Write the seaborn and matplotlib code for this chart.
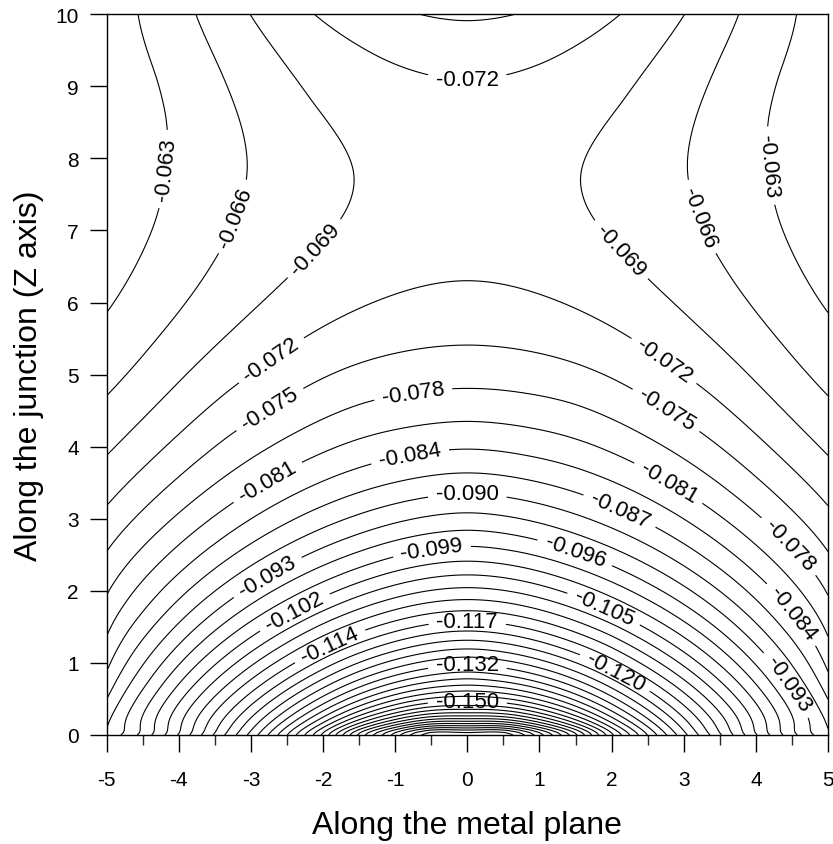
import numpy as np
import seaborn as sns
import matplotlib
matplotlib.use("Agg")
import matplotlib.pyplot as plt

# ---------------- values ----------------
levels = [-0.186, -0.183, -0.180, -0.177, -0.174, -0.171, -0.168, -0.165,
          -0.162, -0.159, -0.156, -0.153, -0.150, -0.147, -0.144, -0.141,
          -0.138, -0.135, -0.132, -0.129, -0.126, -0.123, -0.120, -0.117,
          -0.114, -0.111, -0.108, -0.105, -0.102, -0.099, -0.096, -0.093,
          -0.090, -0.087, -0.084, -0.081, -0.078, -0.075, -0.072, -0.069,
          -0.066, -0.063]

# contour crossings on the centre line x = 0 (plus the saddle value)
axis_y = [0.31, 0.38, 0.46, 0.55, 0.63, 0.72, 0.81, 0.89, 0.98, 1.45, 1.57,
          1.72, 1.88, 2.05, 2.22, 2.42, 2.62, 2.86, 3.10, 3.35, 3.64, 3.97,
          4.38, 4.78, 5.42, 6.31, 7.80, 9.17, 9.88]
axis_v = [-0.156, -0.153, -0.150, -0.147, -0.144, -0.141, -0.138, -0.135,
          -0.132, -0.120, -0.117, -0.114, -0.111, -0.108, -0.105, -0.102,
          -0.099, -0.096, -0.093, -0.090, -0.087, -0.084, -0.081, -0.078,
          -0.075, -0.072, -0.0705, -0.072, -0.075]

# contour crossings on the bottom edge (y = 0), |x|
bottom_x = [4.78, 4.56, 4.38, 4.20, 4.01, 3.83, 3.67, 3.52, 3.35, 3.19, 3.03,
            2.89, 2.75, 2.61, 2.48, 2.35, 2.24, 2.13, 2.00, 1.91, 1.81, 1.71,
            1.60, 1.51, 1.39, 1.28, 1.16, 1.04, 0.90, 0.74, 0.55, 0.33]
bottom_v = [-0.093, -0.096, -0.099, -0.102, -0.105, -0.108, -0.111, -0.114,
            -0.117, -0.120, -0.123, -0.126, -0.129, -0.132, -0.135, -0.138,
            -0.141, -0.144, -0.147, -0.150, -0.153, -0.156, -0.159, -0.162,
            -0.165, -0.168, -0.171, -0.174, -0.177, -0.180, -0.183, -0.186]

# contour crossings on the side edges (|x| = 5)
side_y = [0.21, 0.67, 1.11, 1.58, 2.08, 2.62, 3.23, 3.91, 4.73, 5.86, 7.50,
          9.00, 10.0]
side_v = [-0.090, -0.087, -0.084, -0.081, -0.078, -0.075, -0.072, -0.069,
          -0.066, -0.063, -0.0615, -0.0615, -0.062]

# contour crossings on the top edge (y = 10), |x|
top_x = [0.0, 0.73, 1.46, 2.12, 3.03, 3.80, 4.53]
top_v = [-0.0755, -0.075, -0.0735, -0.072, -0.069, -0.066, -0.063]

# other points (|x|, y, level)
pts_x = [0.73, 1.46, 2.20, 1.83, 1.49, 1.65, 2.11, 2.64, 3.40,
         3.31, 3.01, 3.27, 3.57, 4.33,
         4.24, 4.12, 4.19, 4.28,
         2.13, 2.72, 3.36, 2.11, 2.74, 3.38, 1.46, 0.75, 4.47,
         2.78, 0.79, 4.47, 2.12, 2.78, 4.38, 4.58, 1.49, 0.49, 2.39, 1.89,
         1.93, 2.05]
pts_y = [9.24, 9.56, 8.73, 8.31, 7.80, 7.27, 6.74, 6.19, 5.49,
         8.91, 7.90, 7.20, 6.51, 5.49,
         9.14, 8.57, 7.85, 7.13,
         5.59, 5.20, 4.78, 4.91, 4.50, 4.11, 4.64, 4.73, 2.63,
         3.52, 3.85, 1.65, 3.13, 2.21, 0.66, 0.33, 2.53, 2.56, 1.70, 1.75,
         1.29, 0.87]
pts_v = [-0.072, -0.072, -0.069, -0.069, -0.069, -0.069, -0.069, -0.069, -0.069,
         -0.066, -0.066, -0.066, -0.066, -0.066,
         -0.063, -0.063, -0.063, -0.063,
         -0.072, -0.072, -0.072, -0.075, -0.075, -0.075, -0.078, -0.078, -0.078,
         -0.081, -0.084, -0.084, -0.087, -0.093, -0.093, -0.093, -0.096, -0.099,
         -0.102, -0.105, -0.114, -0.120]

# where the reference puts its contour labels
label_pos = [(-4.19, 7.85), (4.20, 7.90), (-3.27, 7.20), (3.27, 7.20),
             (-2.11, 6.74), (2.14, 6.74), (0.0, 9.22), (-2.71, 5.19),
             (2.74, 5.21), (-2.74, 4.52), (2.74, 4.48), (-0.75, 4.73),
             (4.47, 2.63), (-2.78, 3.53), (2.79, 3.50), (-0.79, 3.85),
             (4.47, 1.65), (2.12, 3.13), (0.0, 3.30), (-2.78, 2.21),
             (4.38, 0.66), (1.49, 2.53), (-0.49, 2.56), (-2.39, 1.70),
             (1.89, 1.75), (-1.93, 1.29), (0.0, 1.57), (2.05, 0.87),
             (0.0, 0.98), (0.0, 0.46)]

# ---------------- smooth surface through the traced contours ----------------
sx = np.concatenate([np.zeros(len(axis_y)), bottom_x, np.full(len(side_y), 4.95),
                     top_x, pts_x])
sy = np.concatenate([axis_y, np.full(len(bottom_x), 0.02), side_y,
                     np.full(len(top_x), 10.0), pts_y])
sv = np.concatenate([axis_v, bottom_v, side_v, top_v, pts_v])
sw = np.where(sy > 5.0, 3.0, 1.0)

ds = 0.05
src = np.arange(-8.0, 8.0 + ds / 2, ds)
nodes = np.arange(0.0, 8.01, 0.5)
hat = np.clip(1 - np.abs(np.abs(src)[:, None] - nodes[None, :]) / 0.5, 0, None) * ds
top_src = [0.0, 1.0, 2.0, 3.0, 4.5, 6.0]


def design(px, py, eps, h):
    kb = -1.0 / np.sqrt((px[:, None] - src[None, :]) ** 2 + py[:, None] ** 2 + eps ** 2)
    cols = [kb @ hat]
    for xt in top_src:
        k = -1.0 / np.sqrt((px - xt) ** 2 + (py - h) ** 2 + 1.0)
        if xt:
            k = k - 1.0 / np.sqrt((px + xt) ** 2 + (py - h) ** 2 + 1.0)
        cols.append(k[:, None])
    u, v = px / 5, py / 10
    for t in (np.ones_like(u), v, u ** 2, v ** 2, u ** 2 * v, u ** 4):
        cols.append(t[:, None])
    return np.hstack(cols)


nb = len(nodes)
nt = len(top_src)
best = None
for eps in (0.05, 0.1, 0.2, 0.35):
    for h in (12.0, 13.0, 14.5, 16.5):
        A = design(sx, sy, eps, h)
        ncol = A.shape[1]
        D = np.zeros((nb - 2 + nt - 2, ncol))
        for j in range(nb - 2):
            D[j, j:j + 3] = [1, -2, 1]
        for j in range(nt - 2):
            D[nb - 2 + j, nb + j:nb + j + 3] = [1, -2, 1]
        M = np.vstack([A * sw[:, None], 0.02 * D, 1e-4 * np.eye(ncol)])
        b = np.concatenate([sv * sw, np.zeros(D.shape[0] + ncol)])
        coef = np.linalg.lstsq(M, b, rcond=None)[0]
        err = np.sqrt(np.mean(((A @ coef - sv) * sw) ** 2))
        if best is None or err < best[0]:
            best = (err, eps, h, coef)

_, eps, h, coef = best

# smoothing thin-plate spline on what the model misses (mirrored in x)
res = sv - design(sx, sy, eps, h) @ coef
mx = np.concatenate([sx, -sx[sx > 0]])
my = np.concatenate([sy, sy[sx > 0]])
mr = np.concatenate([res, res[sx > 0]])


def tps(r2):
    return np.where(r2 > 0, 0.5 * r2 * np.log(np.maximum(r2, 1e-12)), 0.0)


n = len(mx)
K = tps((mx[:, None] - mx[None, :]) ** 2 + (my[:, None] - my[None, :]) ** 2)
P = np.column_stack([np.ones(n), mx, my])
L = np.zeros((n + 3, n + 3))
L[:n, :n] = K + 1.5 * np.eye(n)
L[:n, n:] = P
L[n:, :n] = P.T
sol = np.linalg.solve(L, np.concatenate([mr, np.zeros(3)]))
tw, tc = sol[:n], sol[n:]

xg = np.linspace(-5, 5, 301)
yg = np.linspace(0, 10, 301)
XX, YY = np.meshgrid(xg, yg)
fx, fy = XX.ravel(), YY.ravel()
parts = []
for i in range(0, len(fx), 8000):
    gx, gy = fx[i:i + 8000], fy[i:i + 8000]
    base = design(gx, gy, eps, h) @ coef
    corr = tps((gx[:, None] - mx[None, :]) ** 2 + (gy[:, None] - my[None, :]) ** 2) @ tw
    parts.append(base + corr + tc[0] + tc[1] * gx + tc[2] * gy)
field = np.concatenate(parts).reshape(XX.shape)

# ---------------- plot ----------------
sns.set_theme(style="ticks")
plt.rcParams["font.family"] = ["Liberation Sans", "DejaVu Sans"]
plt.rcParams["axes.unicode_minus"] = False
plt.rcParams["text.color"] = "black"
plt.rcParams["axes.labelcolor"] = "black"

fig, ax = plt.subplots(figsize=(8.33, 8.45), dpi=100)
fig.subplots_adjust(left=0.128, right=0.994, bottom=0.129, top=0.982)

cs = ax.contour(xg, yg, field, levels=levels, colors="black",
                linewidths=0.8, linestyles="solid")
labels = ax.clabel(cs, fmt="%.3f", fontsize=16, inline=True, inline_spacing=8,
                   manual=label_pos)
# near-vertical labels: read upwards on the left, downwards on the right
for t in labels:
    rot = t.get_rotation()
    rot = rot - 360 if rot > 180 else rot
    if abs(rot) > 65:
        if t.get_position()[0] < 0 and rot < 0:
            t.set_rotation(rot + 180)
        elif t.get_position()[0] > 0 and rot > 0:
            t.set_rotation(rot - 180)

ax.set_xlim(-5, 5)
ax.set_ylim(0, 10)
ax.set_xticks(range(-5, 6))
ax.set_xticks(np.arange(-4.5, 5, 1.0), minor=True)
ax.set_yticks(range(0, 11))
ax.tick_params(axis="both", which="major", direction="out", length=12,
               width=1, labelsize=15, colors="black", pad=8)
ax.tick_params(axis="x", which="major", pad=13)
ax.tick_params(axis="x", which="minor", direction="out", length=7.5, width=1)
for s in ax.spines.values():
    s.set_color("black")
    s.set_linewidth(1)

ax.set_xlabel("Along the metal plane", fontsize=23, labelpad=15)
ax.set_ylabel("Along the junction (Z axis)", fontsize=23, labelpad=8)

fig.savefig("out.png", dpi=100)
